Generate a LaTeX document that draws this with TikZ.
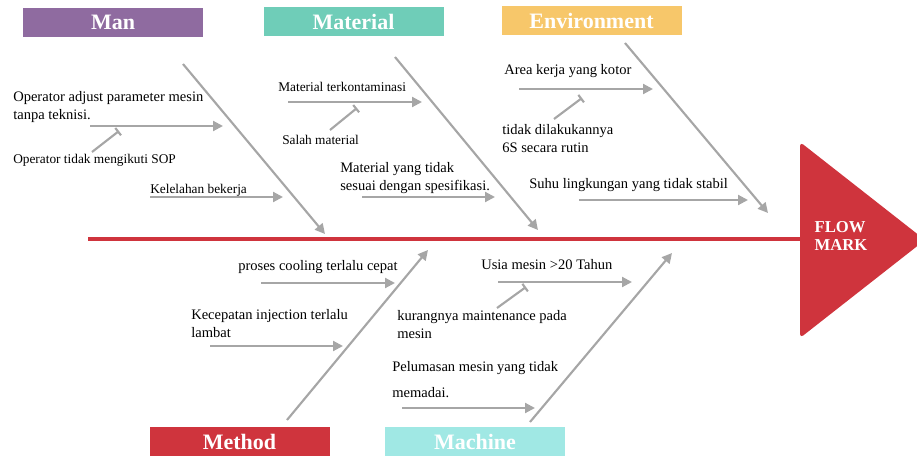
\documentclass[tikz,border=0pt]{standalone}
\usepackage{fontspec}
\setmainfont{Liberation Serif}
\usetikzlibrary{arrows.meta}
\definecolor{manpurple}{HTML}{8F6BA0}
\definecolor{matteal}{HTML}{6FCDB8}
\definecolor{envyellow}{HTML}{F7C76A}
\definecolor{methred}{HTML}{CF343D}
\definecolor{machcyan}{HTML}{A0E8E4}
\definecolor{bonegray}{HTML}{A6A6A6}
\begin{document}
\begin{tikzpicture}[
    x=0.75pt, y=-0.75pt,
    catbox/.style={rectangle, minimum width=135pt, minimum height=21.75pt,
                   inner sep=0pt, text=white,
                   font=\fontsize{16.5}{18}\selectfont\bfseries},
    cause/.style={anchor=west, inner sep=0pt, align=left,
                  font=\fontsize{10.9}{13.5}\selectfont},
    subcause/.style={cause, font=\fontsize{10}{12}\selectfont},
    bone/.style={-{Triangle[length=7.5pt,width=7.5pt]}, line width=1.6pt, draw=bonegray},
    twig/.style={-{Bar[width=7pt]}, line width=1.6pt, draw=bonegray}
  ]
    \useasboundingbox (0,0) rectangle (917,456);

    % categories
    \node[catbox, fill=manpurple] (man)  at (113,22.5)   {Man};
    \node[catbox, fill=matteal]   (mat)  at (353.5,21.5) {Material};
    \node[catbox, fill=envyellow] (env)  at (591.5,21)   {Environment};
    \node[catbox, fill=methred]   (meth) at (239.5,441.5) {Method};
    \node[catbox, fill=machcyan]  (mach) at (475,441.5)  {Machine};

    % head and spine
    \coordinate (tail) at (88,239);
    \coordinate (neck) at (800,239);
    \fill[methred, rounded corners=3pt] (800,142) -- (925,240) -- (800,338) -- cycle;
    \node[text=white, align=left, inner sep=0pt,
          font=\fontsize{12.5}{13.5}\selectfont\bfseries] (head) at (841,236) {FLOW\\MARK};
    \draw[methred, line width=3pt] (tail) -- (neck);

    % bone ends
    \coordinate (man-a)  at (183,64);  \coordinate (man-b)  at (325,234);
    \coordinate (mat-a)  at (395,57);  \coordinate (mat-b)  at (538,230);
    \coordinate (env-a)  at (625,43);  \coordinate (env-b)  at (768,213);
    \coordinate (meth-a) at (287,420); \coordinate (meth-b) at (428,250);
    \coordinate (mach-a) at (530,422); \coordinate (mach-b) at (672,253);

    \draw[bone] (man-a)  -- (man-b);
    \draw[bone] (mat-a)  -- (mat-b);
    \draw[bone] (env-a)  -- (env-b);
    \draw[bone] (meth-a) -- (meth-b);
    \draw[bone] (mach-a) -- (mach-b);

    % causes
    \node[cause]    (man1)   at (13,107)  {Operator adjust parameter mesin\\tanpa teknisi.};
    \node[subcause] (mansub) at (13,160)  {Operator tidak mengikuti SOP};
    \node[subcause] (man2)   at (150,190) {Kelelahan bekerja};
    \node[subcause] (mat1)   at (278,87)  {Material terkontaminasi};
    \node[subcause] (matsub) at (282,140) {Salah material};
    \node[cause]    (mat2)   at (340,178) {Material yang tidak\\sesuai dengan spesifikasi.};
    \node[cause]    (env1)   at (504,71)  {Area kerja yang kotor};
    \node[cause]    (envsub) at (502,139) {tidak dilakukannya\\6S secara rutin};
    \node[cause]    (env2)   at (529,185) {Suhu lingkungan yang tidak stabil};
    \node[cause]    (meth1)  at (238,267) {proses cooling terlalu cepat};
    \node[cause]    (meth2)  at (191,323.5) {Kecepatan injection terlalu\\lambat};
    \node[cause]    (mach1)  at (481,265) {Usia mesin >20 Tahun};
    \node[cause]    (machsub) at (397,324.5) {kurangnya maintenance pada\\mesin};
    \node[cause, font=\fontsize{10.9}{20}\selectfont]
                    (mach2)  at (392,379.5) {Pelumasan mesin yang tidak\\memadai.};

    % rib ends
    \coordinate (man1-a)  at (90,126);  \coordinate (man1-b)  at (223,126);
    \coordinate (man2-a)  at (150,197); \coordinate (man2-b)  at (283,197);
    \coordinate (mat1-a)  at (288,102); \coordinate (mat1-b)  at (422,102);
    \coordinate (mat2-a)  at (362,197); \coordinate (mat2-b)  at (495,197);
    \coordinate (env1-a)  at (519,89);  \coordinate (env1-b)  at (653,89);
    \coordinate (env2-a)  at (579,200); \coordinate (env2-b)  at (748,200);
    \coordinate (meth1-a) at (261,283); \coordinate (meth1-b) at (395,283);
    \coordinate (meth2-a) at (210,346); \coordinate (meth2-b) at (343,346);
    \coordinate (mach1-a) at (498,282); \coordinate (mach1-b) at (632,282);
    \coordinate (mach2-a) at (402,408); \coordinate (mach2-b) at (535,408);

    \draw[bone] (man1-a)  -- (man1-b);
    \draw[bone] (man2-a)  -- (man2-b);
    \draw[bone] (mat1-a)  -- (mat1-b);
    \draw[bone] (mat2-a)  -- (mat2-b);
    \draw[bone] (env1-a)  -- (env1-b);
    \draw[bone] (env2-a)  -- (env2-b);
    \draw[bone] (meth1-a) -- (meth1-b);
    \draw[bone] (meth2-a) -- (meth2-b);
    \draw[bone] (mach1-a) -- (mach1-b);
    \draw[bone] (mach2-a) -- (mach2-b);

    % sub-cause twigs
    \coordinate (mantw-a)  at (92,152);  \coordinate (mantw-b)  at (119,131);
    \coordinate (mattw-a)  at (330,130); \coordinate (mattw-b)  at (357,108);
    \coordinate (envtw-a)  at (554,119); \coordinate (envtw-b)  at (582,98);
    \coordinate (machtw-a) at (497,308); \coordinate (machtw-b) at (526,287);

    \draw[twig] (mantw-a)  -- (mantw-b);
    \draw[twig] (mattw-a)  -- (mattw-b);
    \draw[twig] (envtw-a)  -- (envtw-b);
    \draw[twig] (machtw-a) -- (machtw-b);
  \end{tikzpicture}
\end{document}
